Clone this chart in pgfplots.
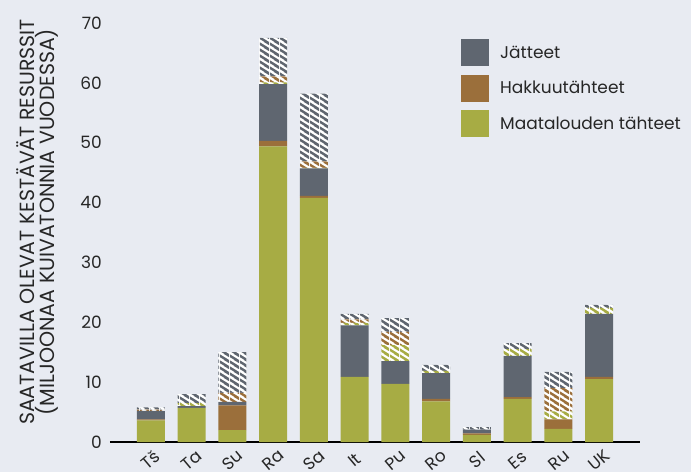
\documentclass[border=0pt]{standalone}
\usepackage{pgfplots}
\usepackage{pgfplotstable}
\pgfplotsset{compat=1.18}
\usepackage{fontspec}
\setmainfont{Poppins}
\usetikzlibrary{patterns.meta}
\definecolor{cgreen}{HTML}{A7AC44}
\definecolor{cbrown}{HTML}{9B6F3B}
\definecolor{cgray}{HTML}{5F6670}
\definecolor{bg}{HTML}{E8EBF2}
\tikzdeclarepattern{
  name=stripes,
  bounding box={(0,0) and (10pt,5.8pt)},
  tile size={(10pt,5.8pt)},
  code={
    \fill (0,5.8pt) -- (10pt,0pt) -- (10pt,-2.9pt) -- (0,2.9pt) -- cycle;
    \fill (0,11.6pt) -- (10pt,5.8pt) -- (10pt,2.9pt) -- (0,8.7pt) -- cycle;
  }
}
\pgfplotstableread{
x g b k hg hb hk
0 3.6 0.2 1.4 0 0.2 0.4
1 5.7 0 0.3 0.5 0 1.5
2 2.0 4.1 0.6 0 1.5 6.8
3 49.4 0.9 9.5 0.3 1.0 6.4
4 40.8 0.3 4.6 0.1 1.1 11.3
5 10.9 0 8.6 0.4 0.6 0.9
6 9.7 0 3.8 2.7 2.2 2.3
7 6.8 0.4 4.3 0.4 0 1.0
8 1.2 0.25 0.6 0 0 0.45
9 7.2 0.3 6.9 1.1 0 1.0
10 2.2 1.6 0 1.3 3.9 2.7
11 10.5 0.4 10.5 1.0 0 0.5
}\data
\begin{document}
\begin{tikzpicture}
\fill[bg] (-110pt,-30pt) rectangle (581pt,442pt);
\begin{axis}[
  scale only axis, width=530pt, height=419pt,
  ybar stacked, bar width=28pt,
  xmin=-1, xmax=12, ymin=0, ymax=70,
  xtick=data,
  xticklabels={Tš,Ta,Su,Ra,Sa,It,Pu,Ro,Sl,Es,Ru,UK},
  ytick={0,10,...,70},
  axis x line=bottom, axis y line=left,
  x axis line style={line width=1.6pt, -, black},
  y axis line style={draw=none},
  major tick length=0pt, tick style={draw=none},
  /pgf/number format/assume math mode=true,
  yticklabel style={inner sep=0pt, xshift=-8pt, font=\fontsize{17}{17}\selectfont, text=black!85},
  x tick label style={font=\fontsize{17}{17}\selectfont, text=black!85, anchor=center, inner sep=0pt, yshift=-18pt, rotate=40},
  ylabel={SAATAVILLA OLEVAT KESTÄVÄT RESURSSIT\\(MILJOONAA KUIVATONNIA VUODESSA)},
  every axis y label/.style={at={(axis description cs:-0.137,0.525)}, rotate=90, anchor=center, align=center, font=\fontsize{20.5}{16.5}\selectfont, text=black!85},
  legend style={at={(axis description cs:0.6623,0.9618)}, anchor=north west, draw=none, fill=none, inner sep=0pt, row sep=8.5pt, column sep=11pt, font=\fontsize{17}{17}\selectfont, text=black!85, nodes={inner sep=0pt}},
  legend cell align=left,
  reverse legend,
  legend image code/.code={\fill[#1] (0pt,-13.5pt) rectangle (28pt,13.5pt);},
  clip=false,
]
\addplot[fill=cgreen, draw=none] table[x=x,y=g]{\data};
\addlegendentry{Maatalouden tähteet}
\addplot[fill=cbrown, draw=none] table[x=x,y=b]{\data};
\addlegendentry{Hakkuutähteet}
\addplot[fill=cgray, draw=none] table[x=x,y=k]{\data};
\addlegendentry{Jätteet}
\addplot[fill=white, draw=none, forget plot, postaction={pattern=stripes, pattern color=cgreen}] table[x=x,y=hg]{\data};
\addplot[fill=white, draw=none, forget plot, postaction={pattern=stripes, pattern color=cbrown}] table[x=x,y=hb]{\data};
\addplot[fill=white, draw=none, forget plot, postaction={pattern=stripes, pattern color=cgray}] table[x=x,y=hk]{\data};
\end{axis}
\pgfresetboundingbox
\useasboundingbox (-110pt,-30pt) rectangle (581pt,442pt);
\end{tikzpicture}
\end{document}
